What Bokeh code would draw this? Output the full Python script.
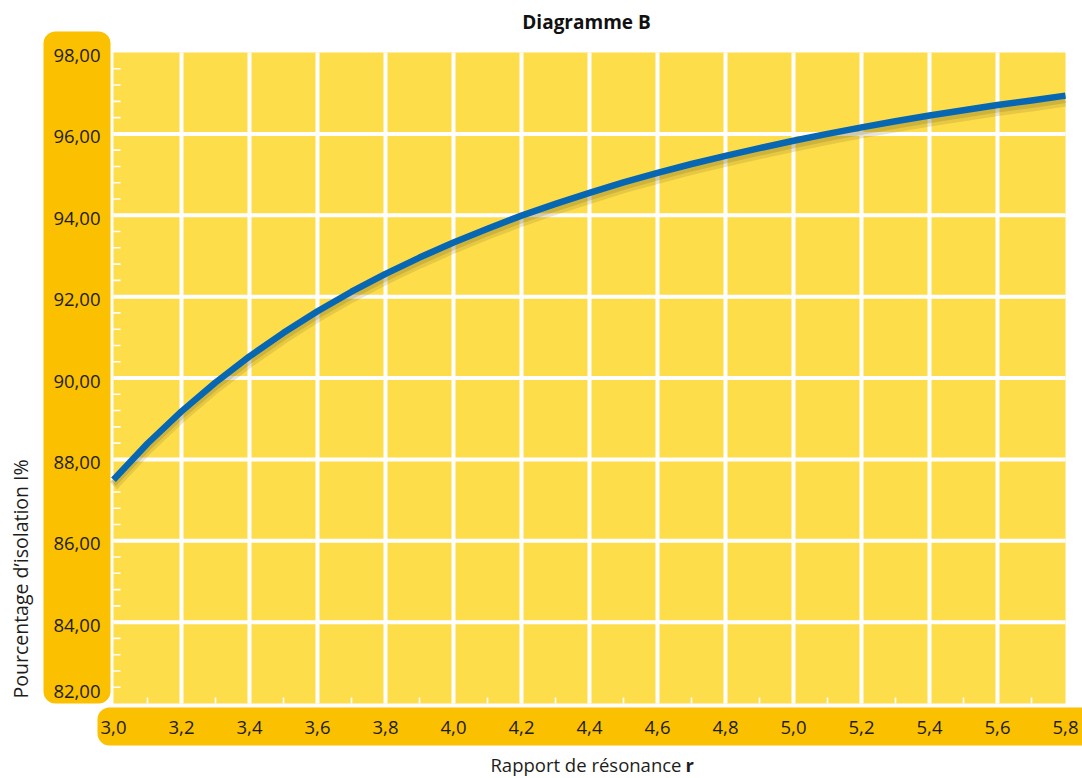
from bokeh.plotting import figure
from bokeh.models import Range1d, BoxAnnotation, ColumnDataSource
from bokeh.core.properties import value
from bokeh.embed import file_html
from bokeh.resources import INLINE
import math

# ---- data ----
r_values = [3.0, 3.1, 3.2, 3.3, 3.4, 3.5, 3.6, 3.7, 3.8, 3.9, 4.0, 4.1, 4.2, 4.3, 4.4,
            4.5, 4.6, 4.7, 4.8, 4.9, 5.0, 5.1, 5.2, 5.3, 5.4, 5.5, 5.6, 5.7, 5.8]
isolation = [87.50, 88.39, 89.18, 89.89, 90.53, 91.11, 91.64, 92.12, 92.56, 92.96,
             93.33, 93.67, 93.99, 94.28, 94.55, 94.81, 95.04, 95.26, 95.46, 95.65,
             95.83, 96.00, 96.16, 96.31, 96.45, 96.58, 96.71, 96.82, 96.94]
x_ticks = [3.0, 3.2, 3.4, 3.6, 3.8, 4.0, 4.2, 4.4, 4.6, 4.8, 5.0, 5.2, 5.4, 5.6, 5.8]
x_labels = ["3,0", "3,2", "3,4", "3,6", "3,8", "4,0", "4,2", "4,4", "4,6", "4,8",
            "5,0", "5,2", "5,4", "5,6", "5,8"]
y_ticks = [82, 84, 86, 88, 90, 92, 94, 96, 98]
y_labels = ["82,00", "84,00", "86,00", "88,00", "90,00", "92,00", "94,00", "96,00", "98,00"]
title_text = "Diagramme B"
x_title = "Rapport de résonance"
x_title_bold = "r"
y_title = "Pourcentage d\u2019isolation I%"

# ---- style ----
PLOT_FILL = "#FEDD4B"
BAND = "#FBC000"
BLUE = "#0767B3"
TXT = "#1d1d1b"
FONT = "Open Sans"

W, H = 1082, 778
# pixel placement of the plot area on the canvas
PX_L, PX_R, PX_T, PX_B = 113, 1065, 52, 703
X0, X1 = x_ticks[0], x_ticks[-1]
Y0, Y1 = y_ticks[0], y_ticks[-1]
sx = (PX_R - PX_L) / (X1 - X0)
sy = (PX_B - PX_T) / (Y1 - Y0)
xa = X0 - PX_L / sx
xb = xa + W / sx
yb = Y1 + PX_T / sy
ya = yb - H / sy

def dx(px):
    return xa + px / sx

def dy(py):
    return yb - py / sy

p = figure(width=W, height=H, min_border=0,
           x_range=Range1d(xa, xb), y_range=Range1d(ya, yb),
           x_axis_location=None, y_axis_location=None,
           output_backend="svg", toolbar_location=None,
           background_fill_color="white", border_fill_color="white",
           outline_line_color=None)
p.grid.visible = False

# axis bands (rounded)
p.add_layout(BoxAnnotation(left=dx(43), right=dx(110), top=dy(31), bottom=dy(703),
                           fill_color=BAND, fill_alpha=1, line_color=None,
                           border_radius=12, level="underlay"))
p.add_layout(BoxAnnotation(left=dx(97), right=dx(W + 20), top=dy(707), bottom=dy(745),
                           fill_color=BAND, fill_alpha=1, line_color=None,
                           border_radius=(12, 0, 0, 12), level="underlay"))

# plot area
p.quad(left=[X0], right=[X1], bottom=[Y0], top=[Y1], fill_color=PLOT_FILL, line_color=None)

# white grid (gaps between tiles)
gx = x_ticks[1:-1]
gy = y_ticks[1:-1]
p.segment(x0=gx, x1=gx, y0=[Y0] * len(gx), y1=[Y1] * len(gx), line_color="white", line_width=4)
p.segment(x0=[X0] * len(gy), x1=[X1] * len(gy), y0=gy, y1=gy, line_color="white", line_width=4)

# minor ticks
y_minor = [a + (b - a) * k / 5 for a, b in zip(y_ticks[:-1], y_ticks[1:]) for k in range(1, 5)]
x_minor = [(a + b) / 2 for a, b in zip(x_ticks[:-1], x_ticks[1:])]
p.segment(x0=[X0] * len(y_minor), x1=[X0 + 7 / sx] * len(y_minor), y0=y_minor, y1=y_minor,
          line_color="white", line_width=1.6)
p.segment(x0=x_minor, x1=x_minor, y0=[Y0] * len(x_minor), y1=[Y0 + 6 / sy] * len(x_minor),
          line_color="white", line_width=1.6)

# curve with soft shadow
p.line(r_values, [v - 6 / sy for v in isolation], line_color="#7a6a20", line_alpha=0.18, line_width=10)
p.line(r_values, [v - 4 / sy for v in isolation], line_color="#7a6a20", line_alpha=0.22, line_width=7)
p.line(r_values, isolation, line_color=BLUE, line_width=6.5, line_cap="butt", line_join="round")

# tick labels (the lowest one is lifted to stay inside its band, as in the reference)
y_offsets = [-12] + [3] * (len(y_ticks) - 1)
ysrc = ColumnDataSource(dict(y=y_ticks, text=y_labels, yo=y_offsets))
p.text(x=X0, y="y", text="text", source=ysrc, x_offset=-13, y_offset="yo",
       text_align="right", text_baseline="middle", text_font=value(FONT),
       text_font_size="18.5px", text_color=TXT)
xsrc = ColumnDataSource(dict(x=x_ticks, text=x_labels))
p.text(x="x", y=Y0, text="text", source=xsrc, y_offset=24,
       text_align="center", text_baseline="middle", text_font=value(FONT),
       text_font_size="18.5px", text_color=TXT)

# titles
p.text(x=[dx(586)], y=[dy(21)], text=[title_text], text_align="center",
       text_baseline="middle", text_font=value(FONT), text_font_style="bold",
       text_font_size="19px", text_color="#111111")
p.text(x=[dx(681)], y=[dy(764)], text=[x_title], text_align="right",
       text_baseline="middle", text_font=value(FONT), text_font_size="18.5px", text_color=TXT)
p.text(x=[dx(685)], y=[dy(764)], text=[x_title_bold], text_align="left",
       text_baseline="middle", text_font=value(FONT), text_font_style="bold",
       text_font_size="18.5px", text_color=TXT)
p.text(x=[dx(20)], y=[dy(698)], text=[y_title], text_align="left",
       text_baseline="middle", angle=math.pi / 2, text_font=value(FONT),
       text_font_size="19.5px", text_color=TXT)

open("out.html", "w").write(file_html(p, INLINE))
